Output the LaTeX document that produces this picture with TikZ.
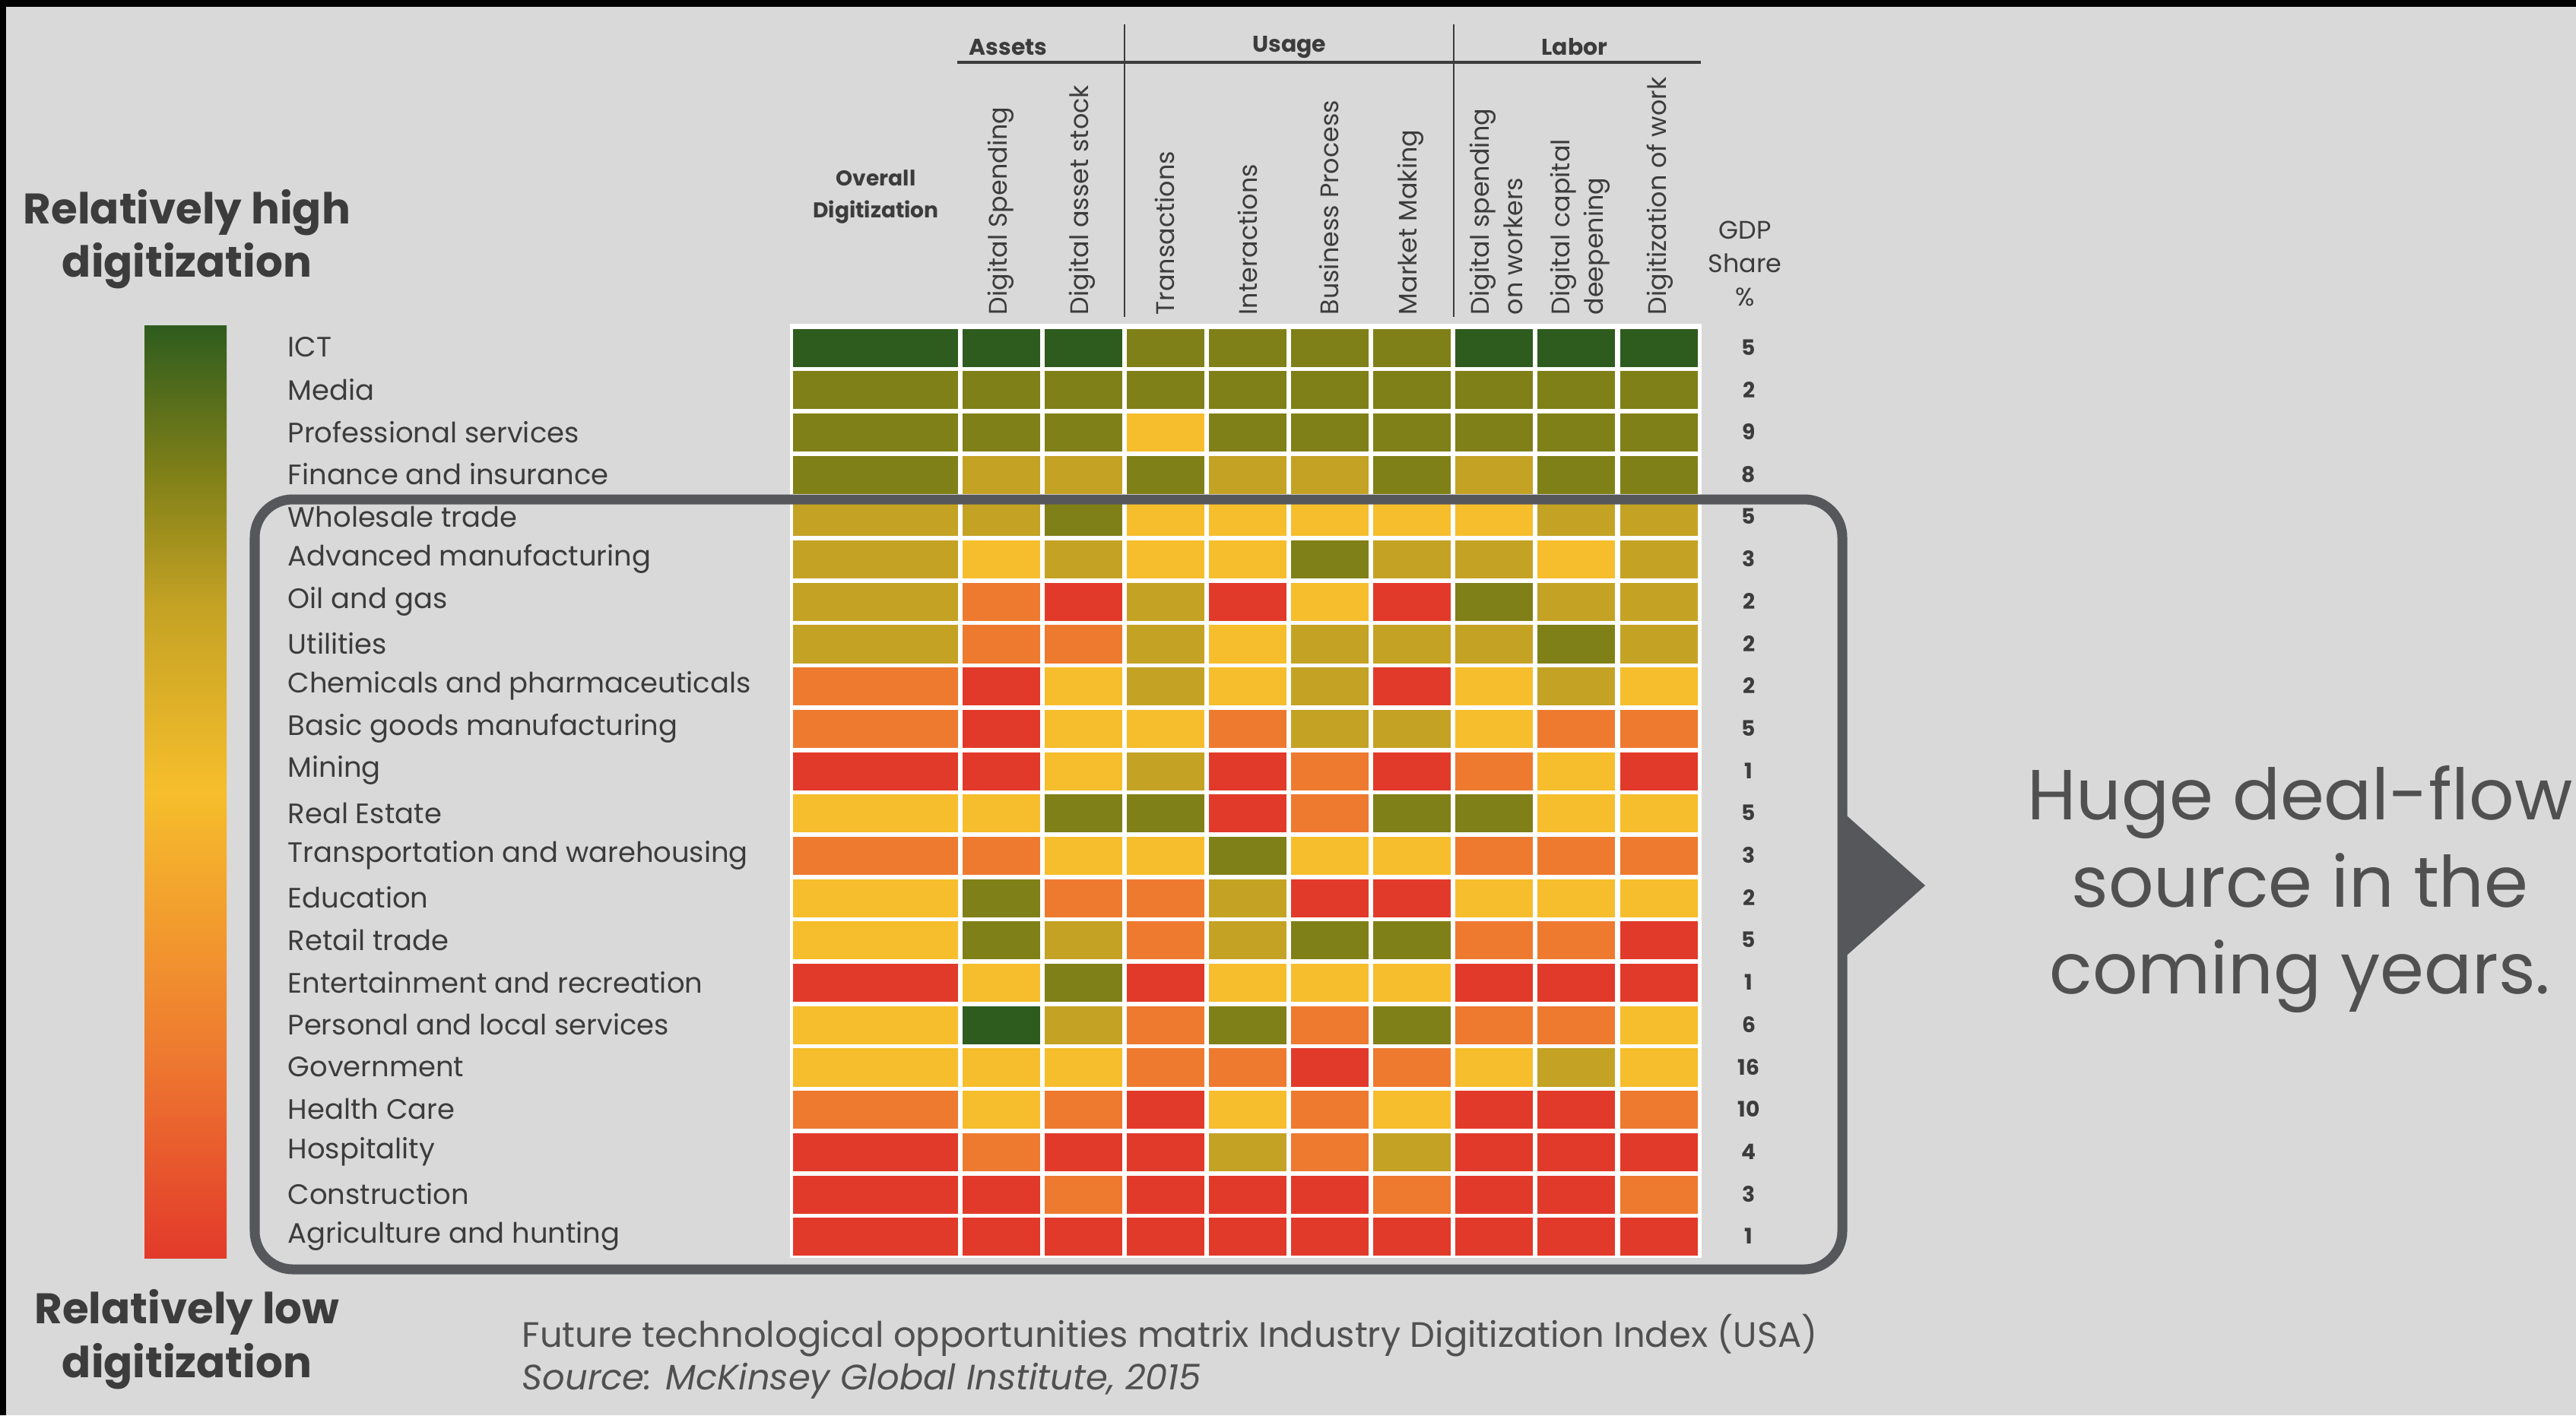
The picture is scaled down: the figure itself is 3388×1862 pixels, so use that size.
\documentclass[tikz,border=0pt]{standalone}
\usepackage{fontspec}
\setmainfont{Poppins}
\definecolor{dg}{RGB}{46,92,30}
\definecolor{ol}{RGB}{128,128,24}
\definecolor{mu}{RGB}{196,162,36}
\definecolor{ye}{RGB}{246,190,44}
\definecolor{og}{RGB}{238,122,48}
\definecolor{rd}{RGB}{226,58,42}
\definecolor{bg}{RGB}{217,217,217}
\definecolor{frame}{RGB}{85,87,90}
\definecolor{ink}{RGB}{60,60,60}
\pgfdeclareverticalshading{digi}{100bp}{color(0bp)=(rd); color(25bp)=(rd); color(36bp)=(og); color(50bp)=(ye); color(60bp)=(mu); color(67bp)=(ol); color(75bp)=(dg); color(100bp)=(dg)}

\begin{document}
\begin{tikzpicture}[x=0.01cm, y=-0.01cm,
    cell/.style={anchor=north west, inner sep=0pt, minimum height=0.5cm},
    lbl/.style={anchor=west, inner sep=0pt, text=ink, font=\fontsize{10.5}{12}\selectfont},
    gdp/.style={inner sep=0pt, text=ink, font=\fontsize{8}{10}\selectfont\bfseries},
    colhead/.style={rotate=90, anchor=west, align=left, inner sep=0pt, text=ink, font=\fontsize{9.5}{12.5}\selectfont},
    grp/.style={inner sep=0pt, text=ink, font=\fontsize{8.5}{10}\selectfont\bfseries},
    title/.style={align=center, inner sep=0pt, text=ink, font=\fontsize{16}{20}\selectfont\bfseries}]
  \useasboundingbox (0,0) rectangle (3388,1862);
  \fill[bg] (0,0) rectangle (3388,1862);
  \fill[black] (0,0) rectangle (3388,9);
  \fill[black] (0,0) rectangle (8,1862);

  \node[title] (high) at (246,315) {Relatively high\\digitization};
  \node[title] (low) at (246,1762) {Relatively low\\digitization};
  \shade[shading=digi] (190,428) rectangle (298,1655);

  \node[grp] (assets) at (1326,62) {Assets};
  \node[grp] (usage) at (1696,62) {Usage};
  \node[grp] (labor) at (2071,62) {Labor};
  \draw[ink, line width=0.9pt] (1259,82) -- (2237,82);
  \draw[ink, line width=0.6pt] (1479,32) -- (1479,417);
  \draw[ink, line width=0.6pt] (1912,32) -- (1912,417);
  \node[align=center, inner sep=0pt, text=ink, font=\fontsize{8}{12}\selectfont\bfseries] (overall) at (1152,259) {Overall\\Digitization};
  \foreach \t/\x [count=\k] in {Digital Spending/1316, Digital asset stock/1423, Transactions/1532,
      Interactions/1641, Business Process/1748, Market Making/1855, {Digital spending\\on workers}/1968,
      {Digital capital\\deepening}/2078, Digitization of work/2183}
    \node[colhead] (h\k) at (\x,415) {\t};
  \node[align=center, inner sep=0pt, text=ink, font=\fontsize{9.5}{12.5}\selectfont] (share) at (2295,347) {GDP\\Share\\\%};

  \fill[white] (1039,426) rectangle (2238,1655);
  \foreach \name/\cells/\gdp [count=\r] in {
      ICT/{dg,dg,dg,ol,ol,ol,ol,dg,dg,dg}/5,
      Media/{ol,ol,ol,ol,ol,ol,ol,ol,ol,ol}/2,
      Professional services/{ol,ol,ol,ye,ol,ol,ol,ol,ol,ol}/9,
      Finance and insurance/{ol,mu,mu,ol,mu,mu,ol,mu,ol,ol}/8,
      Wholesale trade/{mu,mu,ol,ye,ye,ye,ye,ye,mu,mu}/5,
      Advanced manufacturing/{mu,ye,mu,ye,ye,ol,mu,mu,ye,mu}/3,
      Oil and gas/{mu,og,rd,mu,rd,ye,rd,ol,mu,mu}/2,
      Utilities/{mu,og,og,mu,ye,mu,mu,mu,ol,mu}/2,
      Chemicals and pharmaceuticals/{og,rd,ye,mu,ye,mu,rd,ye,mu,ye}/2,
      Basic goods manufacturing/{og,rd,ye,ye,og,mu,mu,ye,og,og}/5,
      Mining/{rd,rd,ye,mu,rd,og,rd,og,ye,rd}/1,
      Real Estate/{ye,ye,ol,ol,rd,og,ol,ol,ye,ye}/5,
      Transportation and warehousing/{og,og,ye,ye,ol,ye,ye,og,og,og}/3,
      Education/{ye,ol,og,og,mu,rd,rd,ye,ye,ye}/2,
      Retail trade/{ye,ol,mu,og,mu,ol,ol,og,og,rd}/5,
      Entertainment and recreation/{rd,ye,ol,rd,ye,ye,ye,rd,rd,rd}/1,
      Personal and local services/{ye,dg,mu,og,ol,og,ol,og,og,ye}/6,
      Government/{ye,ye,ye,og,og,rd,og,ye,mu,ye}/16,
      Health Care/{og,ye,og,rd,ye,og,ye,rd,rd,og}/10,
      Hospitality/{rd,og,rd,rd,mu,og,mu,rd,rd,rd}/4,
      Construction/{rd,rd,og,rd,rd,rd,og,rd,rd,og}/3,
      Agriculture and hunting/{rd,rd,rd,rd,rd,rd,rd,rd,rd,rd}/1} {
    \pgfmathsetmacro\yc{429+55.7*(\r-0.5)}
    \node[lbl] (n\r) at (378,\yc) {\name};
    \node[gdp] (g\r) at (2300,\yc) {\gdp};
    \foreach \col [count=\k] in \cells {
      \pgfmathsetmacro\xl{\k==1 ? 1042 : 1265+108.1*(\k-2)}
      \pgfmathsetmacro\w{\k==1 ? 2.17 : 1.02}
      \node[cell, fill=\col, minimum width=\w cm] (c\r-\k) at (\xl,\yc-25) {};
    }
  }

  \draw[frame, line width=3.7pt, rounded corners=0.5cm] (335,657) rectangle (2423,1670);
  \fill[frame] (2422,1067) -- (2532,1165) -- (2422,1263) -- cycle;
  \node[align=center, inner sep=0pt, text=ink!90, font=\fontsize{26.5}{32.5}\selectfont] (deal) at (3025,1170) {Huge deal-flow\\source in the\\coming years.};
  \node[anchor=west, align=left, inner sep=0pt, text=ink!90, font=\fontsize{13.2}{16}\selectfont] (cap) at (686,1785) {Future technological opportunities matrix Industry Digitization Index (USA)\\\textit{Source: McKinsey Global Institute, 2015}};
\end{tikzpicture}
\end{document}
